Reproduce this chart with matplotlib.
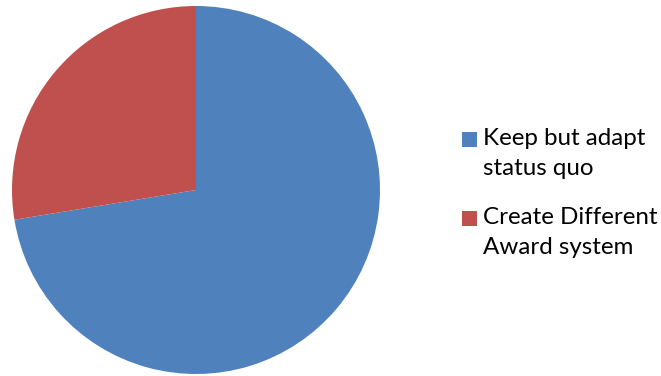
import matplotlib.pyplot as plt
from matplotlib.patches import Patch, Rectangle
from matplotlib.legend_handler import HandlerPatch

labels = ["Keep but adapt\nstatus quo", "Create Different\nAward system"]
values = [21, 8]
colors = ["#4F81BD", "#C0504D"]

fig = plt.figure(figsize=(6.61, 3.76), dpi=100)
ax = fig.add_axes([12 / 661, 2 / 376, 368 / 661, 368 / 376])
ax.pie(values, colors=colors, startangle=90, counterclock=False, radius=1)
ax.set_xlim(-1, 1)
ax.set_ylim(-1, 1)
ax.set_aspect("equal")


def top_square(legend, orig_handle, xdescent, ydescent, width, height, fontsize):
    s = width
    # square sits beside the first line of the label
    return Rectangle((-xdescent, -ydescent + height - s), s, s)


handles = [Patch(facecolor=c, edgecolor="none") for c in colors]
leg = fig.legend(handles, labels, loc="center left", bbox_to_anchor=(462 / 661, 0.487),
                 frameon=False, prop={"family": "Lato", "size": 17.4},
                 handlelength=0.63, handleheight=2.5, handletextpad=0.25,
                 labelspacing=1.15, borderpad=0, borderaxespad=0,
                 handler_map={Patch: HandlerPatch(patch_func=top_square)})
for t in leg.get_texts():
    t.set_linespacing(1.55)

fig.savefig("out.png", dpi=100)
